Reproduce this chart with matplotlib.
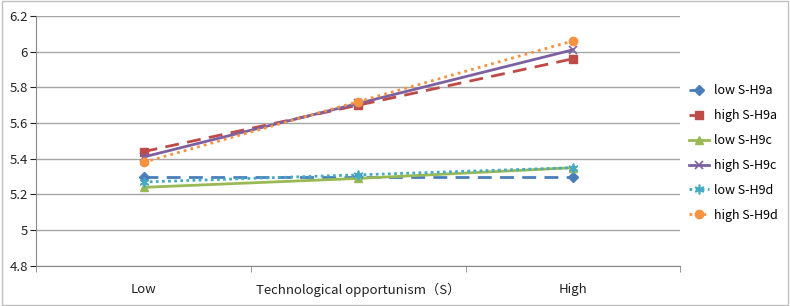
import matplotlib.pyplot as plt
import numpy as np

plt.rcParams['font.family'] = ['Noto Sans CJK SC', 'DejaVu Sans']

categories = ['Low', 'Technological opportunism（S）', 'High']
series_names = ['low S-H9a', 'high S-H9a', 'low S-H9c', 'high S-H9c', 'low S-H9d', 'high S-H9d']
low_h9a = [5.30, 5.30, 5.30]
high_h9a = [5.44, 5.70, 5.96]
low_h9c = [5.24, 5.29, 5.35]
high_h9c = [5.41, 5.71, 6.01]
low_h9d = [5.27, 5.31, 5.35]
high_h9d = [5.38, 5.72, 6.06]

styles = [
    dict(color='#4A7EBB', ls=(0, (5, 3)), marker='D', ms=5),
    dict(color='#BE4B48', ls=(0, (5, 3)), marker='s', ms=6),
    dict(color='#98B954', ls='-', marker='^', ms=6),
    dict(color='#7D60A0', ls='-', marker='x', ms=6, mew=1.2),
    dict(color='#46AAC5', ls=(0, (1, 1.2)), marker=(6, 2, 0), ms=7, mew=1.2),
    dict(color='#F69240', ls=(0, (1, 1.5)), marker='o', ms=6),
]

fig = plt.figure(figsize=(7.9, 3.06), dpi=100)
ax = fig.add_axes([0.046, 0.131, 0.815, 0.817])

x = np.arange(len(categories))
data = [low_h9a, high_h9a, low_h9c, high_h9c, low_h9d, high_h9d]
for name, vals, st in zip(series_names, data, styles):
    ax.plot(x, vals, label=name, lw=2, **st)

ax.set_xlim(-0.5, 2.5)
ax.set_ylim(4.8, 6.2)
ax.set_yticks(np.arange(4.8, 6.21, 0.2))
ax.set_yticklabels(['4.8', '5', '5.2', '5.4', '5.6', '5.8', '6', '6.2'])
ax.set_xticks(x)
ax.set_xticklabels(categories)
ax.set_xticks([-0.5, 0.5, 1.5, 2.5], minor=True)
ax.tick_params(axis='x', which='major', length=0, pad=12)
ax.tick_params(axis='x', which='minor', length=4, color='#888888')
ax.tick_params(axis='y', length=4, color='#888888', pad=2)
ax.tick_params(labelsize=9.5, colors='#222222')
ax.grid(axis='y', color='#a6a6a6', lw=1)
ax.set_axisbelow(True)
for s in ['top', 'right']:
    ax.spines[s].set_visible(False)
ax.spines['left'].set_color('#888888')
ax.spines['bottom'].set_color('#888888')

fig.legend(loc='center left', bbox_to_anchor=(0.872, 0.5), frameon=False,
           fontsize=9, handlelength=1.6, labelspacing=0.95, handletextpad=0.4,
           borderaxespad=0, borderpad=0)

fig.patches.append(plt.Rectangle((0.002, 0.003), 0.996, 0.994, transform=fig.transFigure,
                                 fill=False, edgecolor='#bfbfbf', lw=1))
fig.savefig('out.png', dpi=100)
